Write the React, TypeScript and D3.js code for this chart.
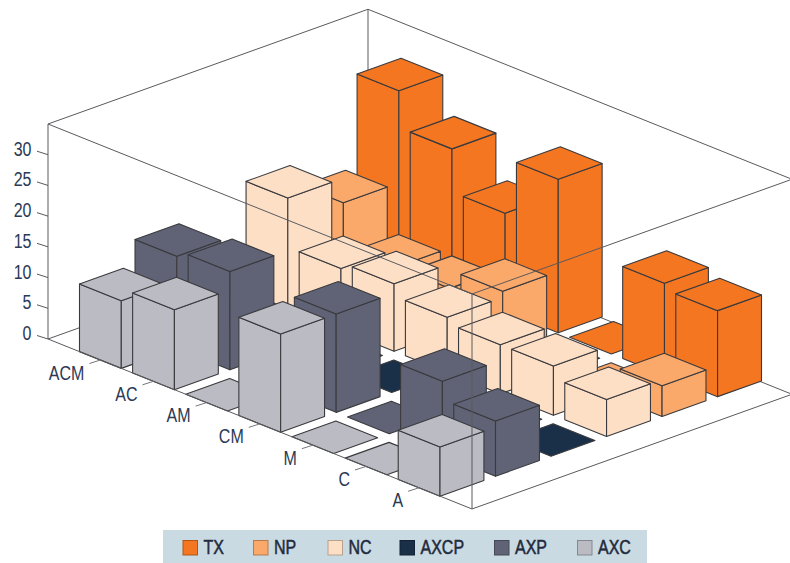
import React from "react";
import * as d3 from "d3";

// Drug-class combinations along the front axis, treatment classes along the side axis.
const categories = ["ACM", "AC", "AM", "CM", "M", "C", "A"];
const seriesFrontToBack = ["AXC", "AXP", "AXCP", "NC", "NP", "TX"];
const legendOrder = ["TX", "NP", "NC", "AXCP", "AXP", "AXC"];
const valueTicks = [0, 5, 10, 15, 20, 25, 30];

const txValues = [29, 23, 16, 25, 0, 15, 14];
const npValues = [14, 7, 7, 10, 0, 0, 5];
const ncValues = [18, 10, 11, 9, 8, 8, 6];
const axcpValues = [0, 0, 0, 0, 0, 0, 0];
const axpValues = [15, 16, 0, 16, 0, 12, 9];
const axcValues = [11, 13, 0, 16, 0, 0, 8];

const valuesBySeries: Record<string, number[]> = {
  TX: txValues,
  NP: npValues,
  NC: ncValues,
  AXCP: axcpValues,
  AXP: axpValues,
  AXC: axcValues,
};

const colors: Record<string, string> = {
  TX: "#f47620",
  NP: "#faa96b",
  NC: "#fddfc5",
  AXCP: "#1a3049",
  AXP: "#5f6375",
  AXC: "#babbc3",
};

const WIDTH = 790;
const HEIGHT = 563;

// Oblique projection of the box: u runs toward the front corner, v toward the right corner.
const ORIGIN_X = 48;
const ORIGIN_Y = 339;
const U_SLOPE = 0.4009;
const V_SLOPE = 0.3585;
const U_MAX = 424;
const V_MAX = 320;

const uScale = d3.scaleBand<string>().domain(categories).range([31.5, 392]).paddingInner(0.2135);
const vScale = d3.scaleBand<string>().domain(seriesFrontToBack).range([0, 321.5]).paddingInner(0.209);
const hScale = d3.scaleLinear().domain([0, 35]).range([0, 215]);

type P = [number, number];
const project = (u: number, v: number, value = 0): P => [
  ORIGIN_X + u + v,
  ORIGIN_Y + U_SLOPE * u - V_SLOPE * v - hScale(value),
];

const closed = d3.line<P>().curve(d3.curveLinearClosed);
const open = d3.line<P>();

const INK = "#3a3a3e";
const FRAME = "#5a5a5e";
const TEXT = "#2b3a55";
const FONT = "'Liberation Sans', Arial, sans-serif";

function Bar({ cat, series }: { cat: string; series: string }) {
  const i = categories.indexOf(cat);
  const value = valuesBySeries[series][i];
  const u0 = uScale(cat)!;
  const u1 = u0 + uScale.bandwidth();
  const v0 = vScale(series)!;
  const v1 = v0 + vScale.bandwidth();
  const fill = colors[series];
  const common = { fill, stroke: INK, strokeWidth: 1.1, strokeLinejoin: "round" as const };
  const top: P[] = [project(u0, v0, value), project(u1, v0, value), project(u1, v1, value), project(u0, v1, value)];
  if (value === 0) return <path d={closed(top)!} {...common} />;
  const left: P[] = [project(u0, v0), project(u1, v0), project(u1, v0, value), project(u0, v0, value)];
  const right: P[] = [project(u1, v0), project(u1, v1), project(u1, v1, value), project(u1, v0, value)];
  return (
    <g>
      <path d={closed(left)!} {...common} />
      <path d={closed(right)!} {...common} />
      <path d={closed(top)!} {...common} />
    </g>
  );
}

function Label({ x, y, text, anchor = "end", heavy = false }: { x: number; y: number; text: string; anchor?: "end" | "start"; heavy?: boolean }) {
  const fill = heavy ? "#232a3c" : TEXT;
  return (
    <text
      transform={`translate(${x},${y}) scale(0.8,1)`}
      textAnchor={anchor}
      fontFamily={FONT}
      fontSize={20}
      fill={fill}
      stroke={heavy ? fill : "none"}
      strokeWidth={heavy ? 0.5 : 0}
    >
      {text}
    </text>
  );
}

// Legend layout: swatch left edges, in legend order.
const legendSwatchX = [183, 253.5, 328, 400, 494.5, 577.5];

export default function App() {
  const floorBack: P[] = [project(0, 0), project(0, V_MAX), project(U_MAX, V_MAX)];
  const topBack: P[] = [project(0, 0, 35), project(0, V_MAX, 35), project(U_MAX, V_MAX, 35)];
  const frontEdges: P[][] = [
    [project(0, 0), project(0, 0, 35)],
    [project(0, 0, 35), project(U_MAX, 0, 35), project(U_MAX, V_MAX, 35)],
    [project(U_MAX, 0), project(U_MAX, 0, 35)],
    [project(U_MAX, V_MAX), project(U_MAX, 0), project(0, 0)],
    [project(U_MAX, V_MAX), project(U_MAX, V_MAX, 35)],
  ];
  const backVertical: P[] = [project(0, V_MAX), project(0, V_MAX, 35)];

  // Painter's order: farthest rows first, back series before front series.
  const cells = categories.flatMap((cat) =>
    [...seriesFrontToBack].reverse().map((series) => ({ cat, series }))
  );

  return (
    <svg
      width={WIDTH}
      height={HEIGHT}
      viewBox={`0 0 ${WIDTH} ${HEIGHT}`}
      style={{ position: "absolute", left: 0, top: 0, display: "block", background: "#fff" }}
    >
      <g fill="none" stroke={FRAME} strokeWidth={1}>
        <path d={open(floorBack)!} />
        <path d={open(topBack)!} />
        <path d={open(backVertical)!} />
      </g>

      {cells.map((c) => (
        <Bar key={c.cat + c.series} {...c} />
      ))}

      <g fill="none" stroke={FRAME} strokeWidth={1}>
        {frontEdges.map((edge, k) => (
          <path key={k} d={open(edge)!} />
        ))}
      </g>

      {valueTicks.map((t) => {
        const [x, y] = project(0, 0, t);
        return (
          <g key={t}>
            <line x1={x} y1={y} x2={x - 11} y2={y - 3.5} stroke={FRAME} strokeWidth={1} />
            <Label x={31.5} y={y + 1} text={String(t)} />
          </g>
        );
      })}

      {categories.map((cat) => {
        const [x, y] = project(uScale(cat)! + uScale.bandwidth() / 2, 0);
        return (
          <g key={cat}>
            <line x1={x} y1={y} x2={x - 11} y2={y + 3.5} stroke="#77777b" strokeWidth={1} />
            <Label x={x - 16} y={y + 19.5} text={cat} />
          </g>
        );
      })}

      <rect x={163} y={530} width={484} height={33} fill="#c9dae3" />
      {legendOrder.map((s, k) => (
        <g key={s}>
          <rect
            x={legendSwatchX[k]}
            y={540.5}
            width={14.5}
            height={14.5}
            fill={colors[s]}
            stroke={d3.color(colors[s])!.darker(0.9).formatHex()}
            strokeWidth={1}
          />
          <Label x={legendSwatchX[k] + 20.5} y={554} text={s} anchor="start" heavy />
        </g>
      ))}
    </svg>
  );
}
